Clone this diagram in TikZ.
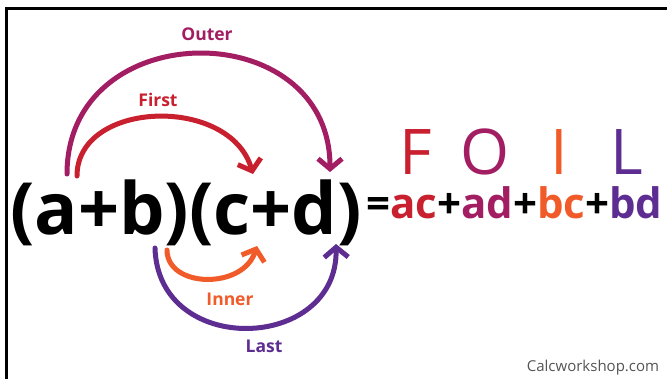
\documentclass[tikz,border=0pt]{standalone}
\usepackage{fontspec}
\setmainfont{Open Sans}
\usetikzlibrary{arrows.meta}
\definecolor{cF}{HTML}{C8202F}
\definecolor{cO}{HTML}{A21D62}
\definecolor{cI}{HTML}{F15A29}
\definecolor{cL}{HTML}{5E2D91}
\definecolor{cG}{HTML}{555555}
\tikzset{
  arc/.style={line width=5pt, line cap=round, -{Straight Barb[length=10pt,width=24pt,line width=5pt]}},
  lbl/.style={font=\fontsize{17.5}{17.5}\selectfont\bfseries, inner sep=0pt},
  foil/.style={font=\fontsize{63}{63}\selectfont, inner sep=0pt, anchor=base},
}
\begin{document}
\begin{tikzpicture}[x=1pt,y=-1pt]
\useasboundingbox (0,0) rectangle (667,378);
\fill[white] (0,0) rectangle (667,378);
\draw[line width=2.5pt] (6.3,380) -- (6.3,8.7) -- (670,8.7);
% main expression
\node[inner sep=0pt, anchor=base west, font=\fontsize{72}{72}\selectfont\bfseries] (expr) at (10,234) {(a+b)(c+d)};
\node[inner sep=0pt, anchor=base west, font=\fontsize{42}{42}\selectfont\bfseries] (rhs) at (366,218)
  {=\textcolor{cF}{ac}+\textcolor{cO}{ad}+\textcolor{cI}{bc}+\textcolor{cL}{bd}};
% FOIL letters
\node[foil, text=cF] (F) at (416,174) {F};
\node[foil, text=cO] (O) at (485,174) {O};
\node[foil, text=cI] (I) at (559,174) {I};
\node[foil, text=cL] (L) at (627,174) {L};
% arc end points
\coordinate (oa) at (67,174);
\coordinate (od) at (330,172);
\coordinate (fa) at (77,176);
\coordinate (fc) at (253,174);
\coordinate (ib) at (167,250);
\coordinate (ic) at (257,246);
\coordinate (lb) at (155,248);
\coordinate (ld) at (336,244);
% arcs
\draw[arc, cO] (oa) .. controls (67,14) and (330,14) .. (od);
\draw[arc, cF] (fa) .. controls (77,100) and (230,95) .. (fc);
\draw[arc, cI] (ib) .. controls (167,288) and (243,290) .. (ic);
\draw[arc, cL] (lb) .. controls (158,358) and (338,352) .. (ld);
% labels
\node[lbl, text=cO] (outer) at (207,34) {Outer};
\node[lbl, text=cF] (first) at (158,100) {First};
\node[lbl, text=cI] (inner) at (230,299) {Inner};
\node[lbl, text=cL] (last) at (264,346) {Last};
\node[inner sep=0pt, text=cG, font=\fontsize{15}{15}\selectfont] (site) at (593,368) {Calcworkshop.com};
\end{tikzpicture}
\end{document}
